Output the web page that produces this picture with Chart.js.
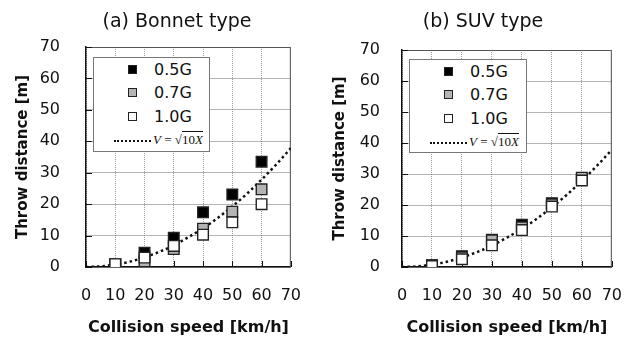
<!DOCTYPE html>
<html>
<head>
<meta charset="utf-8">
<script src="https://cdn.jsdelivr.net/npm/chart.js@4.4.1/dist/chart.umd.min.js"></script>
<style>
  body { margin: 0; background: #fff; width: 641px; height: 340px; position: relative; overflow: hidden; }
  .panel { position: absolute; top: 0; height: 340px; }
  .legend { position: absolute; background: #fff; border: 1.5px solid #777; box-sizing: border-box;
            font-family: 'DejaVu Sans', sans-serif; font-size: 16px; color: #111; }
  .legend .mk { position: absolute; width: 7px; height: 7px; border: 1px solid #222; }
  .legend .lbl { position: absolute; line-height: 18px; white-space: nowrap; }
  .legend .dots { position: absolute; height: 0; border-top: 2px dotted #111; }
  .legend .eq { position: absolute; font-family: 'Liberation Serif', serif; font-size: 13px; line-height: 16px; white-space: nowrap; }
  .legend .eq span { border-top: 1px solid #111; }
</style>
</head>
<body>
<div class="panel" style="left:0;width:320px"><canvas id="chartA" width="320" height="340"></canvas></div>
<div class="panel" style="left:320px;width:321px"><canvas id="chartB" width="321" height="340"></canvas></div>

<script>
// Data
const speeds = [10, 20, 30, 40, 50, 60];

const bonnet05 = [0.9, 4.5, 9.3, 17.4, 23.1, 33.5];
const bonnet07 = [0.9, 1.8, 5.7, 12.2, 17.6, 24.7];
const bonnet10 = [0.9, 3.0, 6.7, 10.3, 14.2, 20.0];

const suv05 = [0.6, 3.5, 8.8, 13.6, 20.6, 28.5];
const suv07 = [0.6, 3.1, 8.6, 12.8, 20.2, 28.8];
const suv10 = [0.3, 2.5, 7.0, 11.9, 19.5, 27.9];

// reference curve V = sqrt(10X)
const curveSpeeds = [0, 5, 10, 15, 20, 25, 30, 35, 40, 45, 50, 55, 60, 65, 70];
const curveThrow = [0, 0.2, 0.8, 1.7, 3.1, 4.8, 6.9, 9.5, 12.3, 15.6, 19.3, 23.3, 27.8, 32.6, 37.8];

const axisMin = 0;
const axisMax = 70;
const axisStep = 10;

const seriesLabels = ['0.5G', '0.7G', '1.0G'];
const seriesFills = ['#000000', '#b4b4b4', '#ffffff'];

const FONT = "'DejaVu Sans', sans-serif";

function pts(xs, ys) {
    return xs.map((x, i) => ({ x: x, y: ys[i] }));
}

// frame, inward tick marks and panel title
const framePlugin = {
    id: 'frame',
    beforeDatasetsDraw(chart) {
        const { ctx, chartArea: a, scales } = chart;
        ctx.save();
        ctx.strokeStyle = '#555';
        ctx.lineWidth = 1;
        ctx.beginPath();
        ctx.moveTo(a.left, a.top + 0.5);
        ctx.lineTo(a.right - 0.5, a.top + 0.5);
        ctx.lineTo(a.right - 0.5, a.bottom);
        ctx.stroke();

        ctx.strokeStyle = '#111';
        ctx.beginPath();
        scales.x.ticks.forEach(t => {
            const px = Math.round(scales.x.getPixelForValue(t.value)) + 0.5;
            ctx.moveTo(px, a.bottom);
            ctx.lineTo(px, a.bottom - 6);
        });
        scales.y.ticks.forEach(t => {
            const py = Math.round(scales.y.getPixelForValue(t.value)) + 0.5;
            ctx.moveTo(a.left, py);
            ctx.lineTo(a.left + 6, py);
        });
        ctx.stroke();
        ctx.restore();
    },
    afterDraw(chart, args, opts) {
        const ctx = chart.ctx;
        ctx.save();
        ctx.font = '19px ' + FONT;
        ctx.fillStyle = '#111';
        ctx.textAlign = 'center';
        ctx.textBaseline = 'middle';
        ctx.fillText(opts.text, opts.x, opts.y);
        ctx.restore();
    }
};

function makePanel(canvasId, title, series, g) {
    const datasets = [];
    // white on top, black at the bottom
    series.forEach((vals, i) => {
        datasets.push({
            label: seriesLabels[i],
            data: pts(speeds, vals),
            pointStyle: 'rect',
            pointRadius: 7.5,
            pointHoverRadius: 7.5,
            pointBackgroundColor: seriesFills[i],
            pointBorderColor: '#222',
            pointBorderWidth: 1.4,
            order: 3 - i
        });
    });
    datasets.push({
        label: 'V = sqrt(10X)',
        data: pts(curveSpeeds, curveThrow),
        showLine: true,
        pointRadius: 0,
        borderColor: '#111',
        borderWidth: 2.5,
        borderDash: [2.5, 3],
        cubicInterpolationMode: 'monotone',
        fill: false,
        order: 10
    });

    return new Chart(document.getElementById(canvasId).getContext('2d'), {
        type: 'scatter',
        data: { datasets: datasets },
        options: {
            responsive: false,
            animation: false,
            layout: { padding: { top: g.top, right: g.right, left: 0, bottom: 0 } },
            plugins: {
                legend: { display: false },
                tooltip: { enabled: false },
                frame: { text: title, x: g.titleX, y: 22 }
            },
            scales: {
                x: {
                    type: 'linear',
                    min: axisMin, max: axisMax,
                    ticks: { stepSize: axisStep, padding: 19, color: '#111', font: { family: FONT, size: 16 } },
                    grid: { color: '#9a9a9a', drawTicks: false, lineWidth: 1 },
                    border: { color: '#111', width: 1.5, dash: [1, 1] },
                    title: {
                        display: true, text: 'Collision speed [km/h]', color: '#111',
                        font: { family: FONT, size: 16, weight: 'bold' },
                        padding: { top: 0, bottom: 3 }
                    },
                    afterFit(s) { s.height = 73; }
                },
                y: {
                    type: 'linear',
                    min: axisMin, max: axisMax,
                    ticks: { stepSize: axisStep, padding: g.tickPad, color: '#111', font: { family: FONT, size: 16 } },
                    grid: { color: '#6a6a6a', drawTicks: false, lineWidth: 1 },
                    border: { color: '#111', width: 1.5, dash: [1, 1] },
                    title: {
                        display: true, text: 'Throw distance [m]', color: '#111',
                        font: { family: FONT, size: 15, weight: 'bold' },
                        padding: { top: g.titlePad, bottom: 0 }
                    },
                    afterFit(s) { s.width = g.axisW; }
                }
            }
        },
        plugins: [framePlugin]
    });
}

function makeLegend(box) {
    const el = document.createElement('div');
    el.className = 'legend';
    el.style.left = box.left + 'px';
    el.style.top = box.top + 'px';
    el.style.width = box.width + 'px';
    el.style.height = box.height + 'px';
    const rows = [12, 35, 59];
    seriesLabels.forEach((lab, i) => {
        const mk = document.createElement('div');
        mk.className = 'mk';
        mk.style.left = (39 - 5) + 'px';
        mk.style.top = (rows[i] - 5) + 'px';
        mk.style.background = seriesFills[i];
        el.appendChild(mk);
        const t = document.createElement('div');
        t.className = 'lbl';
        t.style.left = '60px';
        t.style.top = (rows[i] - 9) + 'px';
        t.textContent = lab;
        el.appendChild(t);
    });
    const d = document.createElement('div');
    d.className = 'dots';
    d.style.left = '20px';
    d.style.width = '37px';
    d.style.top = '82px';
    el.appendChild(d);
    const eq = document.createElement('div');
    eq.className = 'eq';
    eq.style.left = '59px';
    eq.style.top = '74px';
    eq.innerHTML = '<i>V</i> = \u221A<span>10<i>X</i></span>';
    el.appendChild(eq);
    document.body.appendChild(el);
}

makePanel('chartA', '(a) Bonnet type', [bonnet05, bonnet07, bonnet10],
    { top: 47, right: 22, axisW: 86, tickPad: 26, titlePad: 14, titleX: 177 });
makePanel('chartB', '(b) SUV type', [suv05, suv07, suv10],
    { top: 50, right: 26, axisW: 82, tickPad: 22, titlePad: 11, titleX: 163 });

makeLegend({ left: 93, top: 57, width: 117, height: 95 });
makeLegend({ left: 409, top: 59, width: 118, height: 94 });
</script>
</body>
</html>
